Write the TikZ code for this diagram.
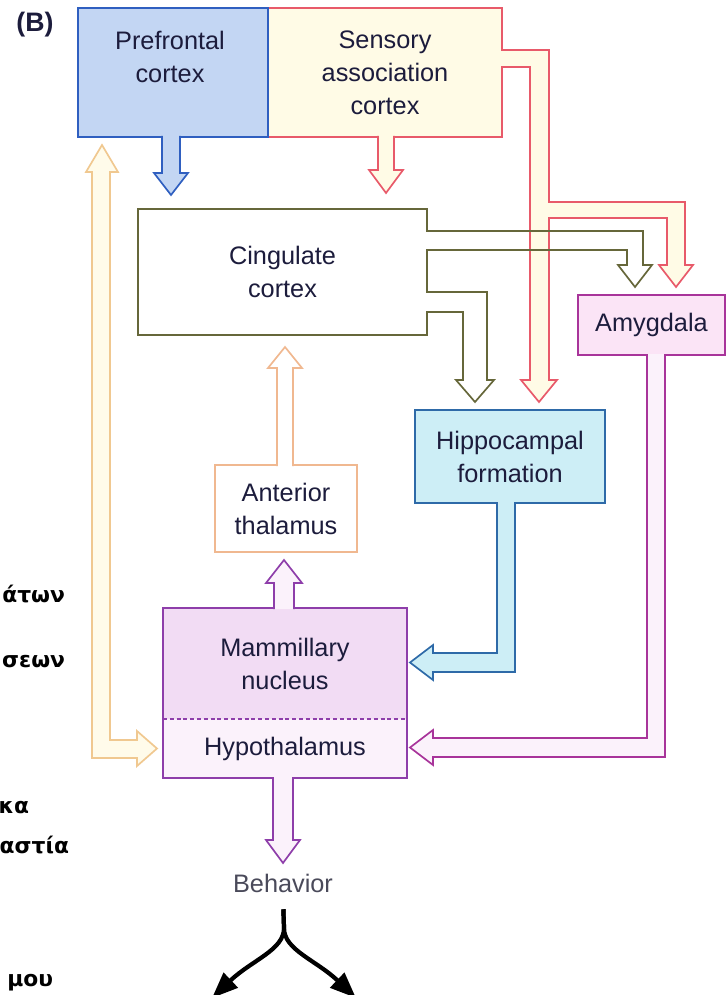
\documentclass[tikz,border=0pt]{standalone}
\usepackage{fontspec}
\setmainfont{Liberation Sans}
\newfontfamily\greekfont{DejaVu Sans}
\usetikzlibrary{arrows.meta,calc}

\definecolor{txt}{HTML}{1C1C3C}
\definecolor{behgray}{HTML}{4A4A5A}
\definecolor{pfcline}{HTML}{2F5FC0}
\definecolor{pfcfill}{HTML}{C3D6F3}
\definecolor{sacline}{HTML}{E85A6A}
\definecolor{sacfill}{HTML}{FFFBE6}
\definecolor{cingline}{HTML}{66673A}
\definecolor{hipline}{HTML}{2E6AA8}
\definecolor{hipfill}{HTML}{CDEEF6}
\definecolor{amyline}{HTML}{A8349A}
\definecolor{amyfill}{HTML}{FBE4F6}
\definecolor{hypline}{HTML}{8E3EAA}
\definecolor{mamfill}{HTML}{F2DCF4}
\definecolor{hthfill}{HTML}{FBF2FB}
\definecolor{athline}{HTML}{F0B890}
\definecolor{loopline}{HTML}{F0C890}
\definecolor{loopfill}{HTML}{FFFBEA}

% olive outlets of the cingulate cortex
\newcommand{\cingamy}{($(cing.north east)+(-1,22)$) -- ++(217,0) -- ++(0,34)
  -- ++(9,0) -- ++(-17,22) -- ++(-17,-22) -- ++(9,0) -- ++(0,-15) -- ++(-201,0)}
\newcommand{\cinghip}{($(cing.north east)+(-1,83)$) -- ++(61,0) -- ++(0,88)
  -- ++(7,0) -- ++(-19,22) -- ++(-19,-22) -- ++(7,0) -- ++(0,-68) -- ++(-37,0)}

\begin{document}
\begin{tikzpicture}[x=0.25mm, y=-0.25mm,
    font=\fontsize{18}{23.5}\selectfont, text=txt,
    box/.style={draw, line width=1.4pt, inner sep=0pt, outer sep=0pt, align=center},
    fat/.style={line width=1.2pt, line join=miter},
    frag/.style={anchor=base east, text=black, font=\greekfont\bfseries\fontsize{15.5}{18}\selectfont},
    beharrow/.style={line width=3pt, -{Triangle[length=6.5mm, width=5mm]}, shorten <=3mm}]

      \useasboundingbox (0,0) rectangle (726,995);

      % Boxes (cortex)
      \node[box, draw=sacline, fill=sacfill, minimum width=58.5mm, minimum height=32.25mm]
      (sac) at (385,72.5) {Sensory\\association\\cortex};
      \node[box, draw=pfcline, fill=pfcfill, minimum width=47.5mm, minimum height=32.25mm]
      (pfc) at (173,72.5) {};
      \node[align=center] (pfclabel) at (170,57) {Prefrontal\\cortex};
      \node[font=\bfseries\fontsize{19}{22}\selectfont] (panel) at (35,25) {(B)};

      \node[box, draw=cingline, fill=white, minimum width=72.25mm, minimum height=31.5mm]
      (cing) at (282.5,272) {Cingulate\\cortex};

      % Boxes (limbic)
      \node[box, draw=hipline, fill=hipfill, minimum width=47.5mm, minimum height=23.25mm]
      (hip) at (510,456.5) {Hippocampal\\formation};
      \node[box, draw=amyline, fill=amyfill, minimum width=36.75mm, minimum height=15mm]
      (amy) at (651.5,325) {Amygdala};
      \node[box, draw=athline, line width=0.8pt, fill=white, minimum width=35.5mm, minimum height=21.75mm]
      (ath) at (286,508.5) {Anterior\\thalamus};

      % Box (hypothalamus)
      \node[box, draw=none, fill=mamfill, minimum width=61mm, minimum height=27.75mm]
      (mam) at (285,663.5) {Mammillary\\nucleus};
      \node[box, draw=none, fill=hthfill, minimum width=61mm, minimum height=14.75mm]
      (hth) at (285,748.5) {Hypothalamus};
      \draw[hypline, line width=1.4pt] (mam.north west) rectangle (hth.south east);
      \draw[hypline, line width=1.2pt, dash pattern=on 1mm off 0.7mm] (mam.south west) -- (mam.south east);

      \node[text=behgray] (beh) at (283,883) {Behavior};

      % Arcs (from cortex)
      \filldraw[fat, draw=pfcline, fill=pfcfill] ($(pfc.south)+(-11,-1)$) -- ++(0,37) -- ++(-8,0)
      -- ++(17,22) -- ++(17,-22) -- ++(-8,0) -- ++(0,-37);

      \filldraw[fat, draw=sacline, fill=sacfill] ($(sac.south)+(-7,-1)$) -- ++(0,34) -- ++(-9,0)
      -- ++(17,23) -- ++(17,-23) -- ++(-9,0) -- ++(0,-34);

      \fill[white] \cingamy;
      \fill[white] \cinghip;

      \filldraw[fat, draw=sacline, fill=sacfill] ($(sac.north east)+(-1,42)$) -- ++(48,0) -- ++(0,152)
      -- ++(136,0) -- ++(0,63) -- ++(8,0) -- ++(-17,22) -- ++(-17,-22) -- ++(8,0) -- ++(0,-47)
      -- ++(-118,0) -- ++(0,162) -- ++(8,0) -- ++(-18,22) -- ++(-18,-22) -- ++(9,0)
      -- ++(0,-313) -- ++(-29,0);

      \draw[fat, draw=cingline] \cingamy;
      \draw[fat, draw=cingline] \cinghip;

      % Arcs (to hypothalamus)
      \filldraw[fat, draw=hipline, fill=hipfill] ($(hip.south)+(-13,-1)$) -- ++(0,151) -- ++(-64,0)
      -- ++(0,-8) -- ++(-23,17.5) -- ++(23,17.5) -- ++(0,-8) -- ++(82,0) -- ++(0,-170);

      \filldraw[fat, draw=amyline, fill=hthfill] ($(amy.south)+(-4.5,-1)$) -- ++(0,384) -- ++(-214,0)
      -- ++(0,-8) -- ++(-23,17.5) -- ++(23,17.5) -- ++(0,-8) -- ++(232,0) -- ++(0,-403);

      \filldraw[fat, draw=loopline, fill=loopfill] ($(pfc.south west)+(24,8)$) -- ++(16,27) -- ++(-8,0)
      -- ++(0,568) -- ++(27,0) -- ++(0,-9) -- ++(20,17.5) -- ++(-20,17.5) -- ++(0,-8)
      -- ++(-45,0) -- ++(0,-586) -- ++(-6,0) -- cycle;

      % Arcs (upward)
      \filldraw[fat, draw=hypline, fill=hthfill] ($(mam.north)+(-11,1)$) -- ++(0,-26) -- ++(-8,0)
      -- ++(18,-23) -- ++(18,23) -- ++(-8,0) -- ++(0,26);

      \filldraw[fat, draw=athline, fill=white] ($(ath.north)+(-9,1)$) -- ++(0,-98) -- ++(-9,0)
      -- ++(17,-21) -- ++(17,21) -- ++(-9,0) -- ++(0,98);

      % Arcs (behavior)
      \filldraw[fat, draw=hypline, fill=hthfill] ($(hth.south)+(-12,-1)$) -- ++(0,63) -- ++(-7,0)
      -- ++(17,23) -- ++(17,-23) -- ++(-7,0) -- ++(0,-63);

      \coordinate (split) at (284,928);
      \coordinate (lefttip) at (212,998);
      \coordinate (righttip) at (356,998);
      \draw[beharrow] (beh.south) -- (split) .. controls +(0,22) and +(40,-38) .. (lefttip);
      \draw[beharrow] (beh.south) -- (split) .. controls +(0,22) and +(-40,-38) .. (righttip);

      % Cut text (left margin)
      \node[frag] (frag1) at (70,602) {άτων};
      \node[frag] (frag2) at (70,667) {σεων};
      \node[frag] (frag3) at (34,813) {κα};
      \node[frag] (frag4) at (74,853) {αστία};
      \node[frag] (frag5) at (58,986) {μου};
    \end{tikzpicture}
\end{document}
